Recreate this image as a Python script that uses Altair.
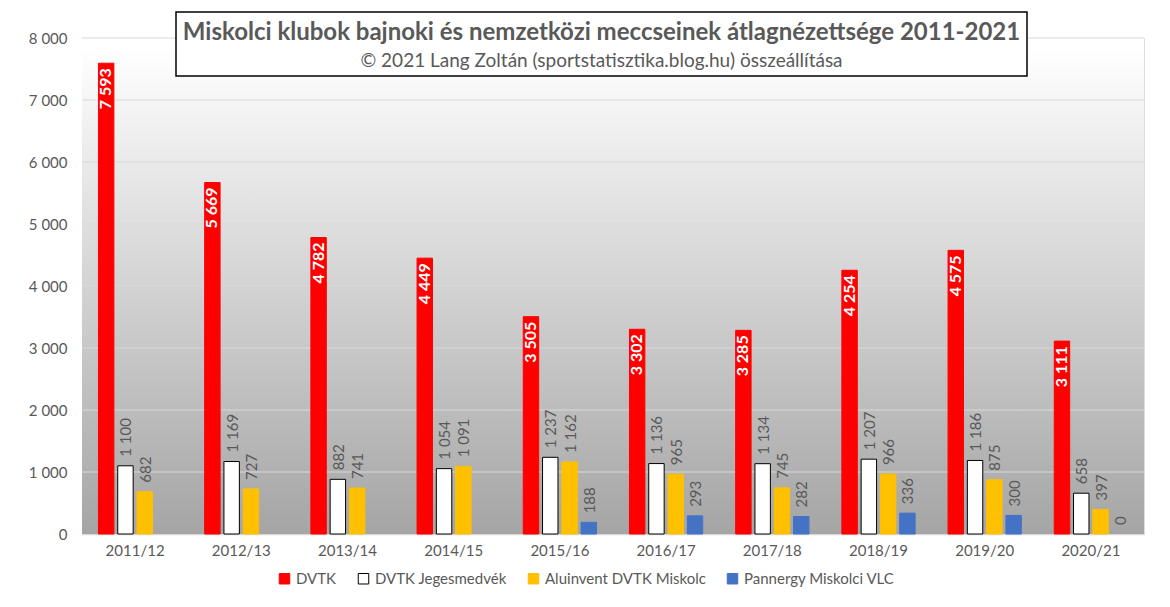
import altair as alt
import pandas as pd

seasons = ["2011/12", "2012/13", "2013/14", "2014/15", "2015/16",
           "2016/17", "2017/18", "2018/19", "2019/20", "2020/21"]
series = ["DVTK", "DVTK Jegesmedvék", "Aluinvent DVTK Miskolc", "Pannergy Miskolci VLC"]
dvtk = [7593, 5669, 4782, 4449, 3505, 3302, 3285, 4254, 4575, 3111]
jeges = [1100, 1169, 882, 1054, 1237, 1136, 1134, 1207, 1186, 658]
aluinvent = [682, 727, 741, 1091, 1162, 965, 745, 966, 875, 397]
pannergy = [None, None, None, None, 188, 293, 282, 336, 300, 0]
fill_colors = ["#ff0000", "#ffffff", "#ffc000", "#4472c4"]
stroke_colors = ["#ff0000", "#000000", "#ffc000", "#4472c4"]
y_ticks = [0, 1000, 2000, 3000, 4000, 5000, 6000, 7000, 8000]
title_text = "Miskolci klubok bajnoki és nemzetközi meccseinek átlagnézettsége 2011-2021"
subtitle_text = "© 2021 Lang Zoltán (sportstatisztika.blog.hu) összeállítása"

rows = []
for name, vals in zip(series, [dvtk, jeges, aluinvent, pannergy]):
    for season, v in zip(seasons, vals):
        if v is None:
            continue
        rows.append({"season": season, "series": name, "value": v,
                     "label": f"{v:,}".replace(",", " ")})
df = pd.DataFrame(rows)
ticks_df = pd.DataFrame({"tick": y_ticks})
one = pd.DataFrame({"a": [0]})

W, H = 1062, 496
FONT = "Lato"
GREY = "#595959"

x_enc = alt.X("season:N", sort=seasons, title=None,
              scale=alt.Scale(paddingInner=0.31, paddingOuter=0.155),
              axis=alt.Axis(labelAngle=0, ticks=False, domainColor="#d9d9d9", domainWidth=1.5,
                            labelFontSize=15, labelColor=GREY, labelPadding=9, labelFont=FONT))
xoff = alt.XOffset("series:N", sort=series,
                   scale=alt.Scale(domain=series, paddingInner=0.2, paddingOuter=0))
y_enc = alt.Y("value:Q", title=None,
              scale=alt.Scale(domain=[0, 8000], nice=False),
              axis=alt.Axis(values=y_ticks, grid=False, domain=False, ticks=False,
                            labelFontSize=15, labelColor=GREY, labelPadding=15, labelFont=FONT,
                            labelExpr="replace(format(datum.value, ','), ',', ' ')"))

legend_kw = dict(orient="none", legendX=195, legendY=533, direction="horizontal",
                 symbolType="square", symbolSize=110, symbolStrokeWidth=1, labelFontSize=15,
                 labelColor=GREY, labelFont=FONT, columnPadding=19, labelLimit=400,
                 symbolOpacity=1)

bg = alt.Chart(one).mark_rect(
    fill=alt.Gradient(gradient="linear",
                      stops=[alt.GradientStop(color="#ffffff", offset=0),
                             alt.GradientStop(color="#ffffff", offset=0.02),
                             alt.GradientStop(color="#a5a5a5", offset=1)],
                      x1=0, x2=0, y1=0, y2=1)
).encode(x=alt.value(0), x2=alt.value(W), y=alt.value(0), y2=alt.value(H))

grid = alt.Chart(ticks_df).transform_filter("datum.tick > 0").mark_rule(
    color="#d9d9d9", strokeWidth=1
).encode(y=alt.Y("tick:Q", scale=alt.Scale(domain=[0, 8000], nice=False)))

bars = alt.Chart(df).transform_filter("datum.value > 0").mark_bar(strokeWidth=1).encode(
    x=x_enc, xOffset=xoff, y=y_enc,
    color=alt.Color("series:N", sort=series, title=None,
                    scale=alt.Scale(domain=series, range=fill_colors),
                    legend=alt.Legend(**legend_kw)),
    stroke=alt.Stroke("series:N", sort=series, title=None,
                      scale=alt.Scale(domain=series, range=stroke_colors),
                      legend=alt.Legend(**legend_kw)),
)

red_labels = alt.Chart(df).transform_filter(alt.datum.series == "DVTK").mark_text(
    angle=270, align="right", baseline="middle", dx=-5, color="white",
    fontWeight="bold", fontSize=16, font=FONT
).encode(x=x_enc, xOffset=xoff, y=y_enc, text="label:N")

other_labels = alt.Chart(df).transform_filter(alt.datum.series != "DVTK").mark_text(
    angle=270, align="left", baseline="middle", dx=9, dy=1, color=GREY,
    fontSize=15, font=FONT
).encode(x=x_enc, xOffset=xoff, y=y_enc, text="label:N")

title_box = alt.Chart(one).mark_rect(fill="white", stroke="black", strokeWidth=1.5).encode(
    x=alt.value(94), x2=alt.value(945), y=alt.value(-26), y2=alt.value(38))
title_mark = alt.Chart(pd.DataFrame({"t": [title_text]})).mark_text(
    fontSize=24, fontWeight="bold", color=GREY, font=FONT, baseline="middle"
).encode(x=alt.value(519.5), y=alt.value(-5), text="t:N")
subtitle_mark = alt.Chart(pd.DataFrame({"t": [subtitle_text]})).mark_text(
    fontSize=19, color=GREY, font=FONT, baseline="middle"
).encode(x=alt.value(519.5), y=alt.value(23), text="t:N")

frame = alt.Chart(one).mark_rect(fill="transparent", stroke="#d9d9d9", strokeWidth=1).encode(
    x=alt.value(-81), x2=alt.value(1086), y=alt.value(-37), y2=alt.value(66 + H))

chart = alt.layer(
    frame, bg, grid, bars, red_labels, other_labels, title_box, title_mark, subtitle_mark
).resolve_scale(color="shared").properties(
    width=W, height=H,
    autosize=alt.AutoSizeParams(type="none"),
    padding={"left": 74, "top": 30, "right": 18, "bottom": 65},
    background="white",
).configure_view(stroke=None).configure(font=FONT)

chart.save("out.html", embed_options={"renderer": "svg", "actions": False})
